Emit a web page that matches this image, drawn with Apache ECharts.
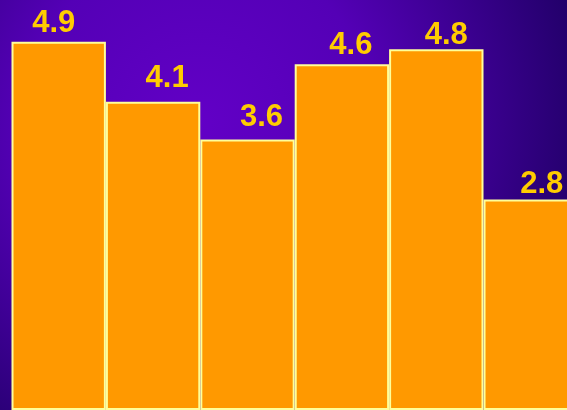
<!DOCTYPE html>
<html>
<head>
<meta charset="utf-8">
<style>
  html, body { margin: 0; padding: 0; }
  #chart { width: 567px; height: 410px; }
</style>
<script src="https://cdn.jsdelivr.net/npm/echarts@6/dist/echarts.min.js"></script>
</head>
<body>
<div id="chart"></div>
<script>
// Six score categories and their values
const categories = ['A', 'B', 'C', 'D', 'E', 'F'];
const values = [4.9, 4.1, 3.6, 4.6, 4.8, 2.8];

// Small per-bar nudges for the value labels [dx, dy]
const labelNudge = [[-5, -3], [14, -8], [14, -6], [9, -3], [10, 2], [11, 0]];

const chart = echarts.init(document.getElementById('chart'), null, { renderer: 'canvas' });

chart.setOption({
  animation: false,
  backgroundColor: {
    type: 'radial', x: 0.35, y: 0.3, r: 0.95,
    colorStops: [
      { offset: 0, color: '#6200c6' },
      { offset: 0.45, color: '#5400b6' },
      { offset: 1, color: '#22006a' }
    ]
  },
  // plot area runs past the right edge so the last bar is cut off
  grid: {
    left: 11.5, width: 566.4, top: 34.2, height: 375.8,
    containLabel: false,
    outerBoundsMode: 'none'
  },
  xAxis: {
    type: 'category',
    data: categories,
    show: false
  },
  yAxis: {
    type: 'value',
    min: 0,
    max: 5,
    show: false,
    splitLine: { show: false }
  },
  series: [{
    type: 'bar',
    barCategoryGap: 0,
    data: values.map((v, i) => ({
      value: v,
      label: { offset: labelNudge[i] }
    })),
    itemStyle: {
      color: '#ff9900',
      borderColor: '#ffff99',
      borderWidth: 2
    },
    label: {
      show: true,
      position: 'top',
      distance: 0,
      color: '#ffcc00',
      fontFamily: '"Comic Sans MS", "Liberation Sans", sans-serif',
      fontWeight: 'bold',
      fontSize: 31,
      formatter: p => p.value.toFixed(1)
    }
  }]
});
</script>
</body>
</html>
